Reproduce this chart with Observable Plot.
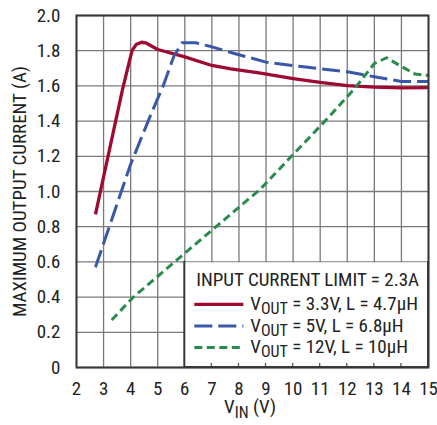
<!DOCTYPE html>
<html>
<head>
<meta charset="utf-8">
<script src="https://cdn.jsdelivr.net/npm/d3@7"></script>
<script src="https://cdn.jsdelivr.net/npm/@observablehq/plot@0.6"></script>
<style>
  html, body { margin: 0; padding: 0; background: #fff; }
  #chart { width: 437px; height: 425px; }
</style>
</head>
<body>
<div id="chart"></div>
<script>
// ---- data ----
const xTicks = [2, 3, 4, 5, 6, 7, 8, 9, 10, 11, 12, 13, 14, 15];
const yTicks = [0, 0.2, 0.4, 0.6, 0.8, 1.0, 1.2, 1.4, 1.6, 1.8, 2.0];
const yTickLabels = ["0", "0.2", "0.4", "0.6", "0.8", "1.0", "1.2", "1.4", "1.6", "1.8", "2.0"];

const vin33  = [2.7, 3.7, 4.05, 4.2, 4.4, 4.55, 5.0, 6.0, 7.0, 7.7, 8.8, 10.0, 11.0, 12.0, 13.0, 14.0, 15.0];
const iout33 = [0.87, 1.58, 1.80, 1.835, 1.848, 1.845, 1.807, 1.765, 1.716, 1.697, 1.672, 1.642, 1.62, 1.602, 1.593, 1.589, 1.59];

const vin5  = [2.7, 3.3, 4.0, 4.7, 5.2, 5.6, 5.9, 6.4, 7.0, 7.7, 9.0, 10.3, 12.0, 13.0, 14.0, 15.0];
const iout5 = [0.57, 0.84, 1.155, 1.42, 1.60, 1.77, 1.845, 1.845, 1.822, 1.79, 1.735, 1.71, 1.68, 1.652, 1.625, 1.625];

const vin12  = [3.3, 4.1, 5.7, 7.0, 8.8, 10.0, 11.3, 12.3, 13.0, 13.45, 14.0, 14.5, 15.0];
const iout12 = [0.27, 0.40, 0.61, 0.78, 1.015, 1.21, 1.42, 1.59, 1.727, 1.76, 1.71, 1.668, 1.659];

const seriesKeys   = ["3.3V", "5V", "12V"];
const seriesSub    = ["OUT", "OUT", "OUT"];
const seriesRest   = [" = 3.3V, L = 4.7\u03BCH", " = 5V, L = 6.8\u03BCH", " = 12V, L = 10\u03BCH"];
const seriesColors = ["#9e0a30", "#3a58a8", "#2a8c4c"];
const seriesDash   = ["none", "18 6", "8 4.5"];
const seriesWidth  = [3.3, 3, 3];
const legendTitle  = "INPUT CURRENT LIMIT = 2.3A";
const yTitle = "MAXIMUM OUTPUT CURRENT (A)";

// ---- build table ----
const rows = [];
[[vin33, iout33], [vin5, iout5], [vin12, iout12]].forEach(([xs, ys], k) => {
  xs.forEach((v, i) => rows.push({series: seriesKeys[k], vin: v, iout: ys[i]}));
});

const FONT = "'Roboto Condensed', 'Liberation Sans', sans-serif";
const FS = 19;
const TXT = "#222";

const lineMarks = seriesKeys.map((s, k) =>
  Plot.line(rows.filter(d => d.series === s), {
    x: "vin", y: "iout",
    stroke: seriesColors[k], strokeWidth: seriesWidth[k],
    strokeDasharray: seriesDash[k] === "none" ? null : seriesDash[k],
    strokeLinejoin: "round", strokeLinecap: "butt"
  })
);

const plot = Plot.plot({
  width: 437, height: 425,
  marginLeft: 76, marginRight: 9, marginTop: 15, marginBottom: 58,
  style: {fontFamily: FONT, fontSize: FS + "px", color: TXT, background: "#fff", overflow: "visible"},
  x: {domain: [2, 15]},
  y: {domain: [0, 2]},
  marks: [
    Plot.gridX(xTicks, {stroke: "#7a7a7a", strokeOpacity: 1, strokeWidth: 1.3}),
    Plot.gridY(yTicks, {stroke: "#7a7a7a", strokeOpacity: 1, strokeWidth: 1.3}),
    Plot.axisX(xTicks, {tickSize: 0, tickPadding: 14, label: null, fontSize: FS, fill: TXT}),
    Plot.axisY(yTicks, {tickSize: 0, tickPadding: 16, label: null, fontSize: FS, fill: TXT,
      tickFormat: (d) => yTickLabels[yTicks.indexOf(d)]}),
    Plot.text([yTitle], {frameAnchor: "left", textAnchor: "middle", lineAnchor: "middle",
      rotate: -90, dx: -57, fontSize: FS, fill: TXT}),
    ...lineMarks,
    Plot.frame({stroke: "#383838", strokeWidth: 2})
  ]
});
document.getElementById("chart").appendChild(plot);

// ---- post: legend + subscripted x title ----
const svg = d3.select(plot);
const xsc = plot.scale("x"), ysc = plot.scale("y");
const X = v => xsc.apply(v), Y = v => ysc.apply(v);

const g = svg.append("g").attr("text-anchor", "start");
const bx0 = X(6), bx1 = X(15), by0 = Y(0.6), by1 = Y(0);
g.append("rect")
  .attr("x", bx0).attr("y", by0 + 1)
  .attr("width", bx1 - bx0 - 1).attr("height", by1 - by0 - 2)
  .attr("fill", "#ffffff").style("fill", "#ffffff").attr("stroke", "none");
g.append("line").attr("x1", bx0).attr("x2", bx0).attr("y1", by0 - 0.6).attr("y2", by1)
  .attr("stroke", "#383838").attr("stroke-width", 2);
xTicks.filter(v => v > 6 && v < 15).forEach(v => {
  g.append("line").attr("x1", X(v)).attr("x2", X(v)).attr("y1", by1).attr("y2", by1 - 4)
    .attr("stroke", "#555").attr("stroke-width", 1.3);
});
g.append("text").attr("x", bx0 + 12).attr("y", by0 + 25)
  .attr("font-family", FONT).attr("font-size", FS).attr("fill", TXT).text(legendTitle);
seriesKeys.forEach((s, k) => {
  const yy = by0 + 43 + k * 21.5;
  g.append("line").attr("x1", bx0 + 10).attr("x2", bx0 + 59).attr("y1", yy).attr("y2", yy)
    .attr("stroke", seriesColors[k]).attr("stroke-width", seriesWidth[k])
    .attr("stroke-dasharray", seriesDash[k] === "none" ? null : seriesDash[k]);
  const t = g.append("text").attr("x", bx0 + 66).attr("y", yy + 6)
    .attr("font-family", FONT).attr("font-size", FS).attr("fill", TXT);
  t.append("tspan").text("V");
  t.append("tspan").attr("font-size", FS * 0.84).attr("dy", 4).text(seriesSub[k]);
  t.append("tspan").attr("dy", -4).text(seriesRest[k]);
});
// redraw the frame's bottom/right edges over the legend box
g.append("line").attr("x1", bx0).attr("x2", bx1 + 1).attr("y1", by1).attr("y2", by1).attr("stroke", "#383838").attr("stroke-width", 2);
g.append("line").attr("x1", bx1).attr("x2", bx1).attr("y1", by0).attr("y2", by1 + 1).attr("stroke", "#383838").attr("stroke-width", 2);

const xt = svg.append("text").attr("x", (X(2) + X(15)) / 2 - 2).attr("y", 413).attr("text-anchor", "middle")
  .attr("font-family", FONT).attr("font-size", FS).attr("fill", TXT);
xt.append("tspan").text("V");
xt.append("tspan").attr("font-size", FS * 0.84).attr("dy", 5).text("IN");
xt.append("tspan").attr("dy", -5).text(" (V)");
</script>
</body>
</html>
